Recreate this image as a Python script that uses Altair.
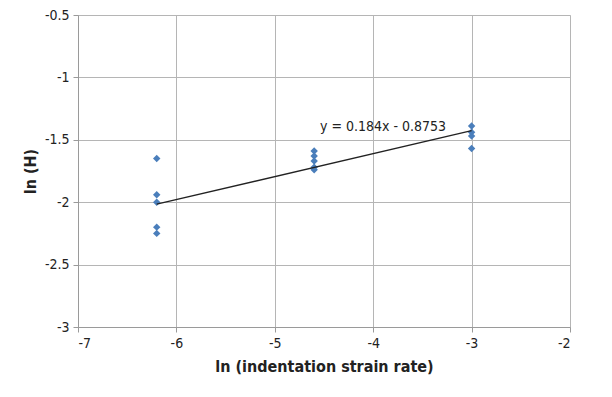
import altair as alt
import pandas as pd

xs = [-6.2, -6.2, -6.2, -6.2, -6.2,
      -4.6, -4.6, -4.6, -4.6, -4.6,
      -3.0, -3.0, -3.0, -3.0]
ys = [-1.65, -1.94, -2.0, -2.2, -2.25,
      -1.59, -1.63, -1.67, -1.72, -1.74,
      -1.39, -1.44, -1.47, -1.57]
slope = 0.184
intercept = -0.8753
fit_x = [-6.2, -3.0]
eq_label = "y = 0.184x - 0.8753"
x_ticks = [-7, -6, -5, -4, -3, -2]
y_ticks = [-3, -2.5, -2, -1.5, -1, -0.5]

pts = pd.DataFrame({"x": xs, "y": ys})
fit = pd.DataFrame({"x": fit_x, "y": [slope * v + intercept for v in fit_x]})
lab = pd.DataFrame({"x": [-3.9], "y": [-1.40], "t": [eq_label]})

FONT = "Liberation Sans Narrow, DejaVu Sans Condensed, sans-serif"

xsc = alt.Scale(domain=[-7, -2], nice=False)
ysc = alt.Scale(domain=[-3, -0.5], nice=False)

common = dict(grid=True, gridColor="#b5b5b5", domainColor="#9a9a9a", tickColor="#9a9a9a",
              tickSize=5, labelFontSize=14, labelColor="#222", labelPadding=4,
              titleFontSize=16, titleFontWeight="bold", titleColor="#222",
              labelFont=FONT, titleFont=FONT, labelExpr="toString(datum.value)")
xax = alt.Axis(values=x_ticks, title="ln (indentation strain rate)", titlePadding=8, **common)
yax = alt.Axis(values=y_ticks, title="ln (H)", titlePadding=6, **common)

points = alt.Chart(pts).mark_point(shape="diamond", filled=True, size=55, color="#4a7ebb", opacity=1).encode(
    x=alt.X("x:Q", scale=xsc, axis=xax),
    y=alt.Y("y:Q", scale=ysc, axis=yax),
)
line = alt.Chart(fit).mark_line(color="#222", strokeWidth=1.3).encode(
    x=alt.X("x:Q", scale=xsc), y=alt.Y("y:Q", scale=ysc))
text = alt.Chart(lab).mark_text(fontSize=14, font=FONT, color="#222").encode(
    x=alt.X("x:Q", scale=xsc), y=alt.Y("y:Q", scale=ysc), text="t:N")

chart = alt.layer(points, line, text).properties(
    width=492, height=312,
    autosize=alt.AutoSizeParams(type="none"),
    padding={"left": 70, "top": 7, "right": 30, "bottom": 60},
).configure_view(stroke=None).configure(background="white")

chart.save("out.html", embed_options={"renderer": "svg", "actions": False})
